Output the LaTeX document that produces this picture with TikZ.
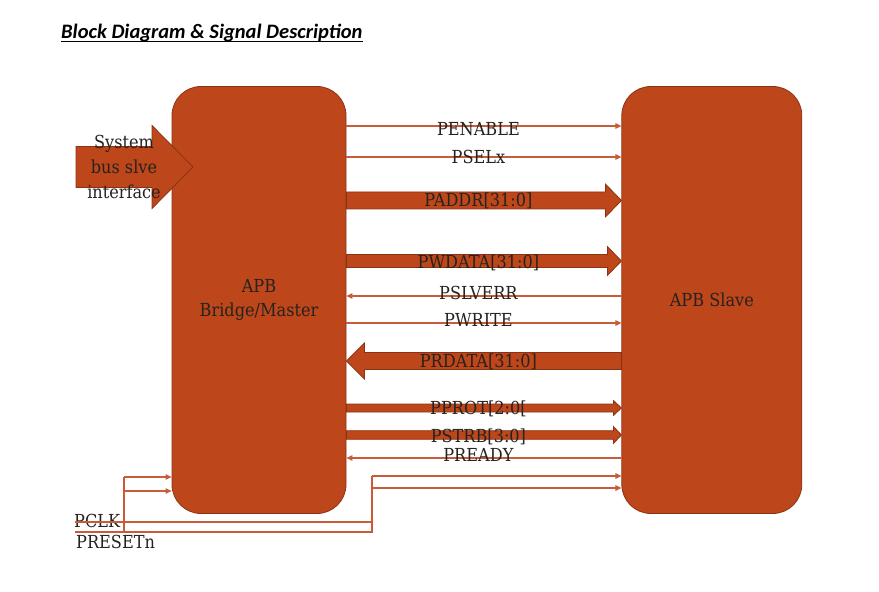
\documentclass[tikz,border=0pt]{standalone}
\usepackage{fontspec}
\setmainfont{DejaVu Serif}[FakeStretch=0.9]
\newfontfamily\titlefont{Carlito}
\usetikzlibrary{positioning,calc,arrows.meta}

\definecolor{blockfill}{RGB}{189,71,27}
\definecolor{blockedge}{RGB}{140,50,20}
\definecolor{wire}{RGB}{200,92,58}
\definecolor{ink}{RGB}{38,34,30}

\tikzset{
  block/.style={draw=blockedge, fill=blockfill, line width=0.8bp,
    rounded corners=29bp, minimum height=427bp, text=ink, align=center,
    font=\fontsize{18}{24}\selectfont},
  sig/.style={draw=wire, line width=1.1bp},
  bus/.style={draw=blockedge, fill=blockfill, line width=0.8bp},
  lbl/.style={text=ink, inner sep=0pt, text height=13bp, text depth=0pt,
    font=\fontsize{18}{21}\selectfont},
  >={Triangle[length=6bp,width=5.5bp]}
}

% fat arrow: tail, tip, y, half shaft, half head, head length
\newcommand{\busarrow}[6]{%
  \coordinate (tl) at (#1 |- 0,#3);
  \coordinate (tp) at (#2 |- 0,#3);
  \coordinate (hb) at ($(tp)!#6bp!(tl)$);
  \draw[bus] ($(tl)+(0,-#4)$) -- ($(hb)+(0,-#4)$) -- ($(hb)+(0,-#5)$) -- (tp)
    -- ($(hb)+(0,#5)$) -- ($(hb)+(0,#4)$) -- ($(tl)+(0,#4)$) -- cycle;
}

\begin{document}
\begin{tikzpicture}[x=1bp, y=-1bp]
  \useasboundingbox (0,0) rectangle (879,592);

  \node[inner sep=0pt, anchor=base west,
    font=\titlefont\bfseries\itshape\fontsize{20.6}{22}\selectfont] (title) at (61,39)
    {Block Diagram \& Signal Description};
  \draw[line width=1.3bp] ([yshift=-2.5bp]title.base west) -- ([yshift=-2.5bp]title.base east);

  \node[block, minimum width=174bp] (master) at (259,300) {APB\\Bridge/Master};
  \node[block, minimum width=180bp, right=275bp of master] (slave) {APB Slave};

  % system bus input
  \coordinate (sysin) at (76,167);
  \coordinate (systip) at (193,167);
  \busarrow{sysin}{systip}{167}{20.5}{41.5}{41}
  \node[text=ink, align=center, font=\fontsize{18}{25}\selectfont] (sys) at (124,167)
    {System\\bus slve\\interface};

  % single wires
  \foreach \y/\from/\to in {126/master.east/slave.west, 157/master.east/slave.west,
      296/slave.west/master.east, 323/master.east/slave.west, 458/slave.west/master.east}
    \draw[sig,->] (\from |- 0,\y) -- (\to |- 0,\y);

  % buses
  \foreach \y/\bs/\bh/\bl/\from/\to in {200.5/8.5/16.5/16/master.east/slave.west,
      261/6.5/14.5/14/master.east/slave.west, 361/8.5/18/18/slave.west/master.east,
      408/4/7.5/8/master.east/slave.west, 435/4.3/8.5/8/master.east/slave.west}
    {\busarrow{\from}{\to}{\y}{\bs}{\bh}{\bl}}

  \coordinate (mid) at ($(master.east)!0.48!(slave.west)$);
  \foreach \y/\txt in {129/PENABLE, 157/PSELx, 200.5/{PADDR[31:0]}, 261.5/{PWDATA[31:0]},
      293/PSLVERR, 320/PWRITE, 361/{PRDATA[31:0]}, 408/{PPROT[2:0[}, 436/{PSTRB[3:0]},
      455/PREADY}
    \node[lbl] at (mid |- 0,\y) {\txt};

  % clock and reset
  \coordinate (pclk) at (75,522);
  \coordinate (presetn) at (75,532);
  \coordinate (jl) at (124,532);
  \coordinate (jr) at (372,532);
  \coordinate (jlt) at (124,477);
  \coordinate (jrt) at (372,476);
  \node[lbl, anchor=west] (pclktxt) at (74,521) {PCLK};
  \node[lbl, anchor=west] (rsttxt) at (76,542) {PRESETn};

  \draw[sig] (pclk) -- (pclk -| jr);
  \draw[sig] (presetn) -- (jr) -- (jrt);
  \draw[sig] (jl) -- (jlt);
  \draw[sig,->] (jlt) -- (master.west |- jlt);
  \draw[sig,->] (jl |- 0,491) -- (master.west |- 0,491);
  \draw[sig,->] (jrt) -- (slave.west |- jrt);
  \draw[sig,->] (jr |- 0,488) -- (slave.west |- 0,488);
\end{tikzpicture}
\end{document}
